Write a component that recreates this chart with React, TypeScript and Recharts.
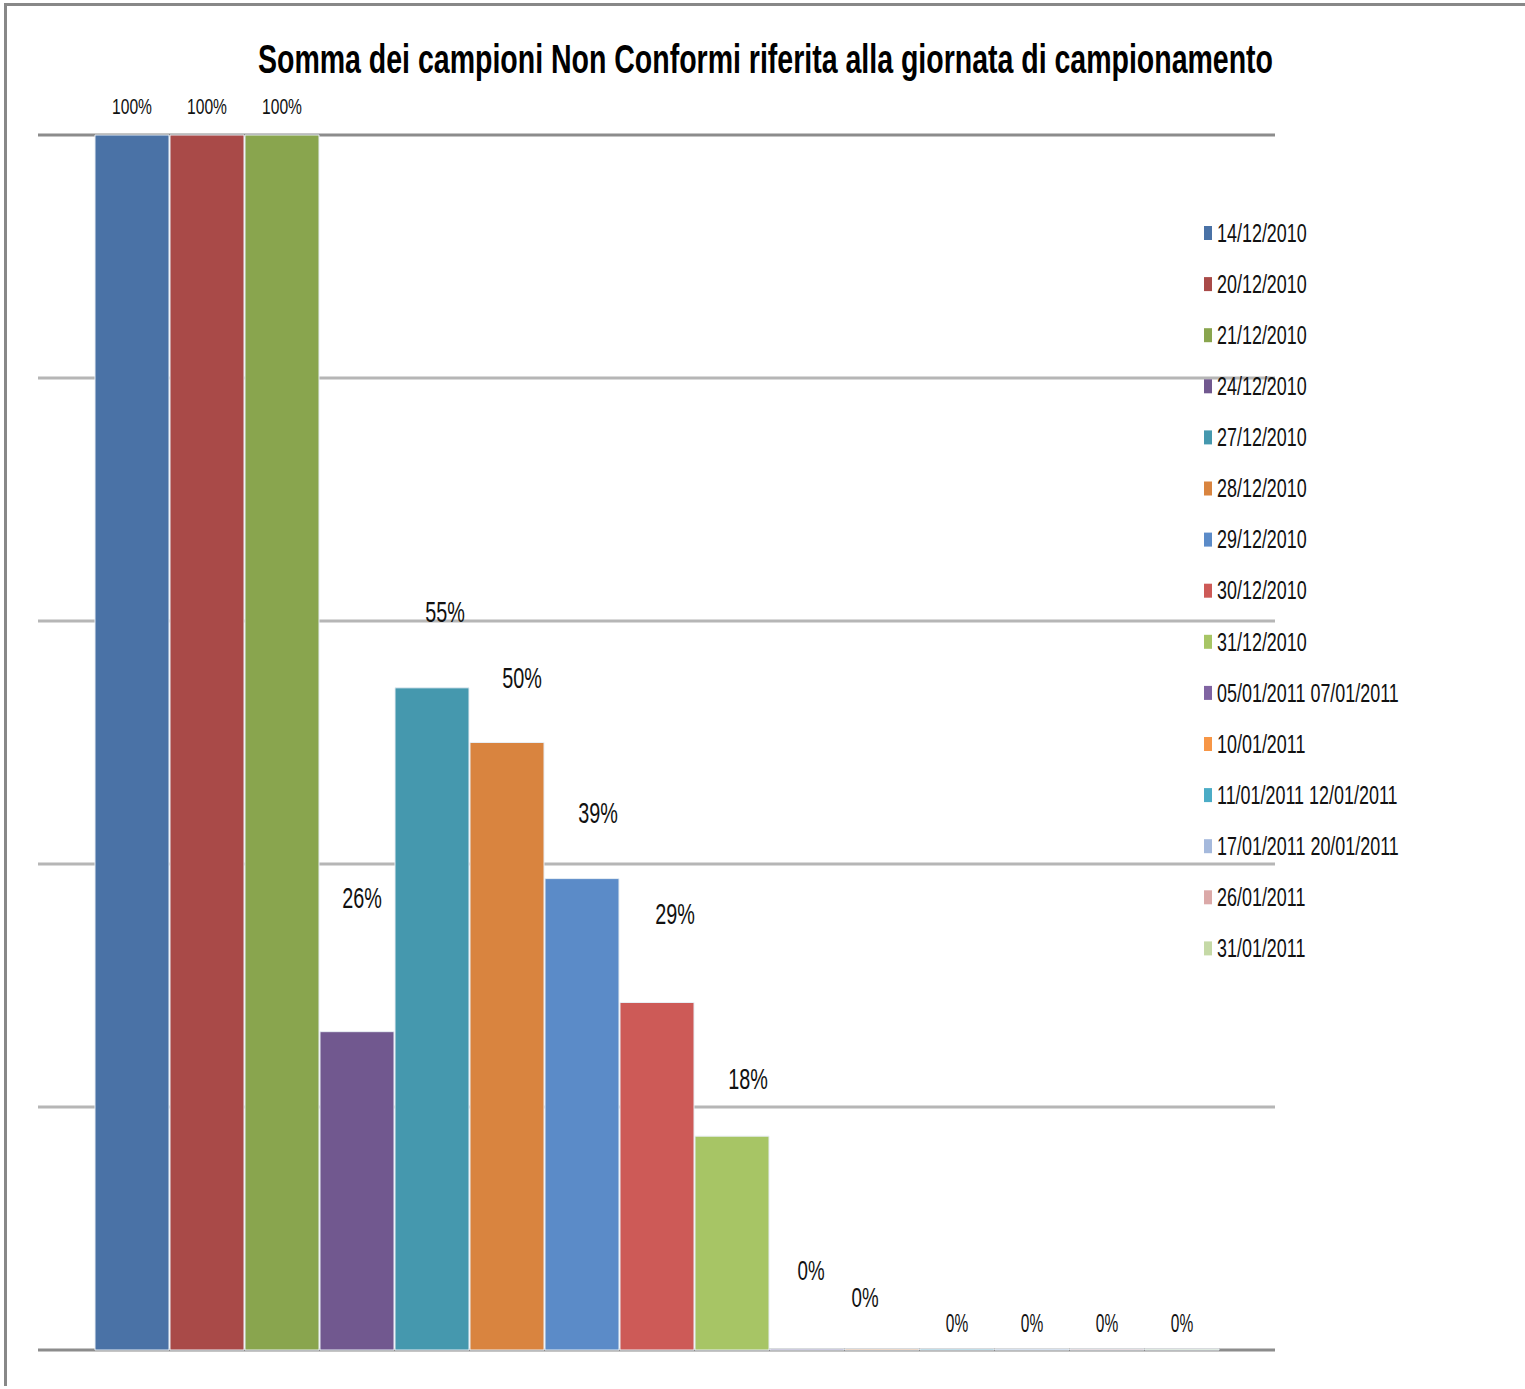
import React from "react";
import { BarChart, Bar, XAxis, YAxis, CartesianGrid, Legend } from "recharts";

const TITLE = "Somma dei campioni Non Conformi riferita alla giornata di campionamento";

const seriesNames = [
  "14/12/2010",
  "20/12/2010",
  "21/12/2010",
  "24/12/2010",
  "27/12/2010",
  "28/12/2010",
  "29/12/2010",
  "30/12/2010",
  "31/12/2010",
  "05/01/2011 07/01/2011",
  "10/01/2011",
  "11/01/2011 12/01/2011",
  "17/01/2011 20/01/2011",
  "26/01/2011",
  "31/01/2011",
];

const seriesValues = [1, 1, 1, 0.262, 0.545, 0.5, 0.388, 0.286, 0.176, 0, 0, 0, 0, 0, 0];

const valueLabels = ["100%", "100%", "100%", "26%", "55%", "50%", "39%", "29%", "18%", "0%", "0%", "0%", "0%", "0%", "0%"];

const yTicks = [0, 0.2, 0.4, 0.6, 0.8, 1];

// styling for the bars and their labels
const barColors = [
  "#4A72A6", "#A94A48", "#89A54E", "#71588F", "#4598AE",
  "#D9843F", "#5B8BC8", "#CD5A57", "#A7C565", "#8064A2",
  "#F79646", "#4BACC6", "#A5B9DC", "#DBA9A8", "#C5D9A6",
];
const labelSize = [22, 22, 22, 30, 30, 30, 30, 30, 30, 28, 28, 25, 25, 25, 25];
const labelScale = [0.71, 0.71, 0.71, 0.66, 0.66, 0.66, 0.66, 0.66, 0.66, 0.67, 0.67, 0.62, 0.62, 0.62, 0.62];
const labelDx = [0, 0, 0, 5, 13, 15, 16, 18, 16, 4, -17, 0, 0, 0, 0];
const labelDy = [-28, -28, -28, -134, -76, -65, -66, -89, -58, -79, -52, -26, -26, -26, -26];

const chartData = [
  seriesValues.reduce<Record<string, number | string>>(
    (row, v, i) => {
      row[`s${i}`] = v;
      return row;
    },
    { name: "" }
  ),
];

const FONT = "'Liberation Sans', Arial, sans-serif";

function makeLabel(i: number) {
  return (props: any) => {
    const { x, y, width } = props;
    const cx = Number(x) + Number(width) / 2 + labelDx[i];
    const cy = Number(y) + labelDy[i];
    return (
      <text
        transform={`translate(${cx},${cy}) scale(${labelScale[i]},1)`}
        textAnchor="middle"
        dominantBaseline="central"
        fontSize={labelSize[i]}
        fontFamily={FONT}
        fill="#111"
      >
        {valueLabels[i]}
      </text>
    );
  };
}

function LegendBox() {
  const step = 51.1;
  return (
    <svg width={320} height={770}>
      {seriesNames.map((n, i) => {
        const cy = 18 + i * step;
        return (
          <g key={n}>
            <rect x={4} y={cy - 7} width={8} height={14} fill={barColors[i]} />
            <text
              transform={`translate(17,${cy}) scale(0.69,1)`}
              dominantBaseline="central"
              fontSize={26}
              fontFamily={FONT}
              fill="#111"
            >
              {n}
            </text>
          </g>
        );
      })}
    </svg>
  );
}

function GridLine(p: any) {
  const edge = p.index === yTicks.length - 1 || p.index === 0;
  return (
    <line
      key={p.key}
      x1={p.x1}
      x2={p.x2}
      y1={p.y1}
      y2={p.y2}
      stroke={edge ? "#8C8C8C" : "#B6B6B6"}
      strokeWidth={3}
    />
  );
}

export default function App() {
  return (
    <div style={{ position: "absolute", left: 0, top: 0, width: 1525, height: 1389, background: "#fff" }}>
      <div
        style={{
          position: "absolute",
          left: 4,
          top: 3,
          width: 1521,
          height: 1383,
          borderTop: "3px solid #888",
          borderLeft: "3px solid #888",
          boxSizing: "border-box",
        }}
      />
      <BarChart
        width={1525}
        height={1389}
        data={chartData}
        margin={{ top: 135, right: 250, bottom: 39, left: 38 }}
        barCategoryGap={57}
        barGap={1}
        style={{ position: "absolute", left: 0, top: 0 }}
      >
        <CartesianGrid vertical={false} horizontal={GridLine} />
        <YAxis hide domain={[0, 1]} ticks={yTicks} />
        <XAxis
          dataKey="name"
          height={0}
          tick={false}
          tickLine={false}
          axisLine={{ stroke: "#8C8C8C", strokeWidth: 3 }}
        />
        <XAxis
          xAxisId="edge"
          type="number"
          domain={[0, 1]}
          ticks={[0, 1]}
          height={0}
          tick={() => <g />}
          axisLine={false}
          tickLine={{ stroke: "#A0A0A0", strokeWidth: 2 }}
          tickSize={11}
        />
        <Legend
          content={<LegendBox />}
          layout="vertical"
          align="center"
          verticalAlign="middle"
          wrapperStyle={{ position: "absolute", left: 1200, top: 215, width: 320 }}
        />
        {seriesNames.map((n, i) => (
          <Bar
            key={n}
            dataKey={`s${i}`}
            name={n}
            fill={barColors[i]}
            stroke="#E8EEF4"
            strokeWidth={1}
            minPointSize={1}
            isAnimationActive={false}
            label={makeLabel(i)}
          />
        ))}
      </BarChart>
      <svg width={1525} height={100} style={{ position: "absolute", left: 0, top: 0, pointerEvents: "none" }}>
        <text
          x={258}
          y={73}
          textLength={1015}
          lengthAdjust="spacingAndGlyphs"
          fontSize={40}
          fontWeight="bold"
          fontFamily={FONT}
          fill="#000"
        >
          {TITLE}
        </text>
      </svg>
    </div>
  );
}
